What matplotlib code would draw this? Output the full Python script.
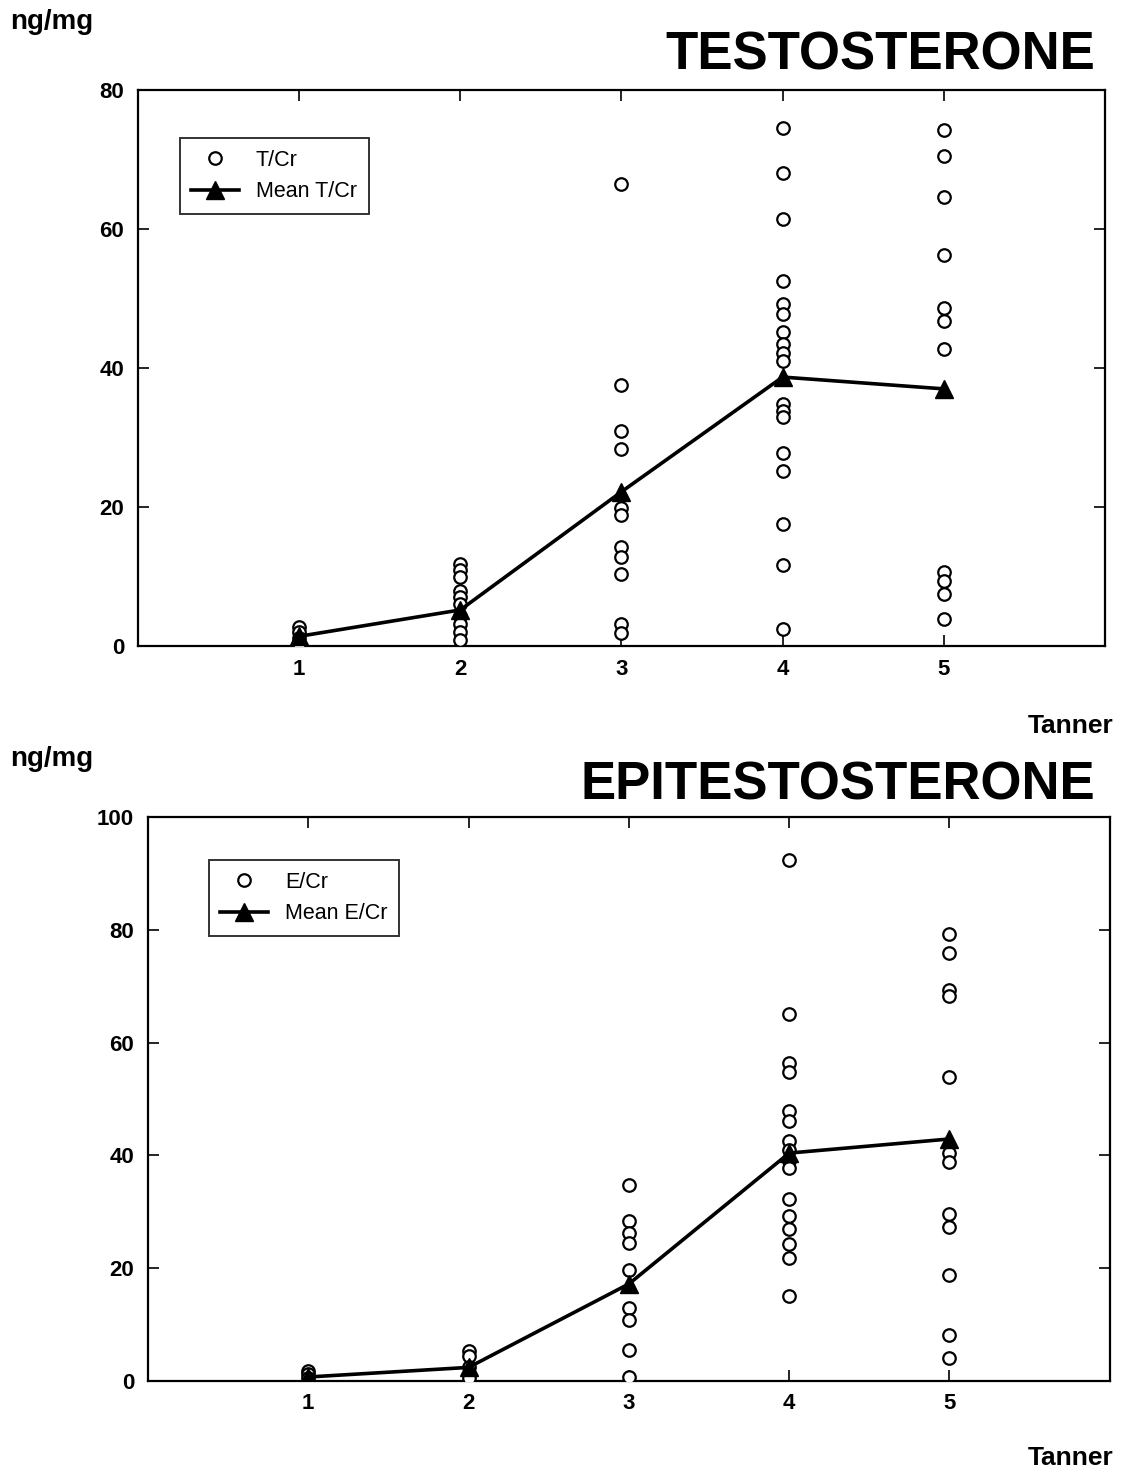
import numpy as np
from matplotlib import pyplot as plt

plt.rcParams['font.family'] = ['Liberation Sans', 'DejaVu Sans']

tanner = [1, 2, 3, 4, 5]

# T/Cr individual values per Tanner stage (ng/mg)
t_cr = {
    1: [2.8, 2.0, 1.2, 0.5, 0.3],
    2: [11.8, 10.9, 9.9, 7.9, 7.0, 6.0, 4.3, 3.2, 2.0, 0.9],
    3: [66.5, 37.5, 31.0, 28.3, 19.8, 18.9, 14.3, 12.8, 10.3, 3.2, 1.9],
    4: [74.5, 68.0, 61.5, 52.5, 49.2, 47.8, 45.2, 43.5, 42.2, 41.0,
        34.8, 33.8, 33.0, 27.8, 25.2, 17.5, 11.7, 2.5],
    5: [74.2, 70.5, 64.6, 56.3, 48.6, 46.8, 42.7, 10.6, 9.4, 7.5, 3.9],
}
t_mean = [1.4, 5.2, 22.2, 38.7, 37.0]

# E/Cr individual values per Tanner stage (ng/mg)
e_cr = {
    1: [1.8, 1.2, 0.5],
    2: [5.3, 4.4, 2.5, 1.2, 0.5],
    3: [34.8, 28.4, 26.2, 24.5, 19.7, 12.9, 10.8, 5.5, 0.7],
    4: [92.4, 65.1, 56.4, 54.8, 47.9, 46.1, 42.6, 41.0, 39.0, 37.8,
        32.3, 29.3, 27.0, 24.3, 21.8, 15.1],
    5: [79.3, 75.9, 69.3, 68.3, 53.9, 40.4, 38.8, 29.6, 27.3, 18.8, 8.2, 4.1],
}
e_mean = [0.7, 2.4, 17.2, 40.4, 42.9]

fig = plt.figure(figsize=(11.21, 14.73), dpi=100)


def panel(rect, data, means, ymax, ystep, lab, title, ytext, ttext, tanner_y, leg_pos):
    ax = fig.add_axes(rect)
    xs = []
    ys = []
    for k in tanner:
        xs += [k] * len(data[k])
        ys += data[k]
    ax.plot(xs, ys, 'o', ls='none', mfc='white', mec='black', ms=9, mew=1.6,
            label=lab, zorder=3)
    ax.plot(tanner, means, '-', color='black', lw=2.6, marker='^', ms=13,
            label='Mean ' + lab, zorder=4)
    ax.set_xlim(0, 6)
    ax.set_ylim(0, ymax)
    ax.set_xticks(tanner)
    ax.set_yticks(np.arange(0, ymax + 1, ystep))
    ax.tick_params(direction='in', length=8, width=1.2, top=True, right=True,
                   labelsize=16)
    ax.tick_params(axis='x', pad=9)
    ax.tick_params(axis='y', pad=10)
    for t in ax.get_xticklabels() + ax.get_yticklabels():
        t.set_fontweight('bold')
    for s in ax.spines.values():
        s.set_linewidth(1.6)
    leg = ax.legend(loc='upper left', bbox_to_anchor=leg_pos, fontsize=15.5,
                    frameon=True, fancybox=False, edgecolor='black',
                    handlelength=2.2, handletextpad=0.8, borderpad=0.55,
                    labelspacing=0.5, borderaxespad=0)
    leg.get_frame().set_linewidth(1.4)
    fig.text(0.009, ytext, 'ng/mg', fontsize=20, fontweight='bold', va='center')
    fig.text(0.977, ttext, title, fontsize=38, fontweight='bold', ha='right',
             va='center')
    fig.text(0.993, tanner_y, 'Tanner', fontsize=19, fontweight='bold', ha='right',
             va='center')
    return ax


panel([0.1231, 0.5614, 0.8626, 0.3775], t_cr, t_mean, 80, 20, 'T/Cr',
      'TESTOSTERONE', 1 - 22 / 1473, 1 - 55 / 1473, 1 - 726 / 1473, (0.043, 0.914))
panel([0.132, 0.0625, 0.858, 0.3829], e_cr, e_mean, 100, 20, 'E/Cr',
      'EPITESTOSTERONE', 1 - 759 / 1473, 1 - 785 / 1473, 1 - 1458 / 1473, (0.063, 0.924))

plt.savefig('out.png', dpi=100)
